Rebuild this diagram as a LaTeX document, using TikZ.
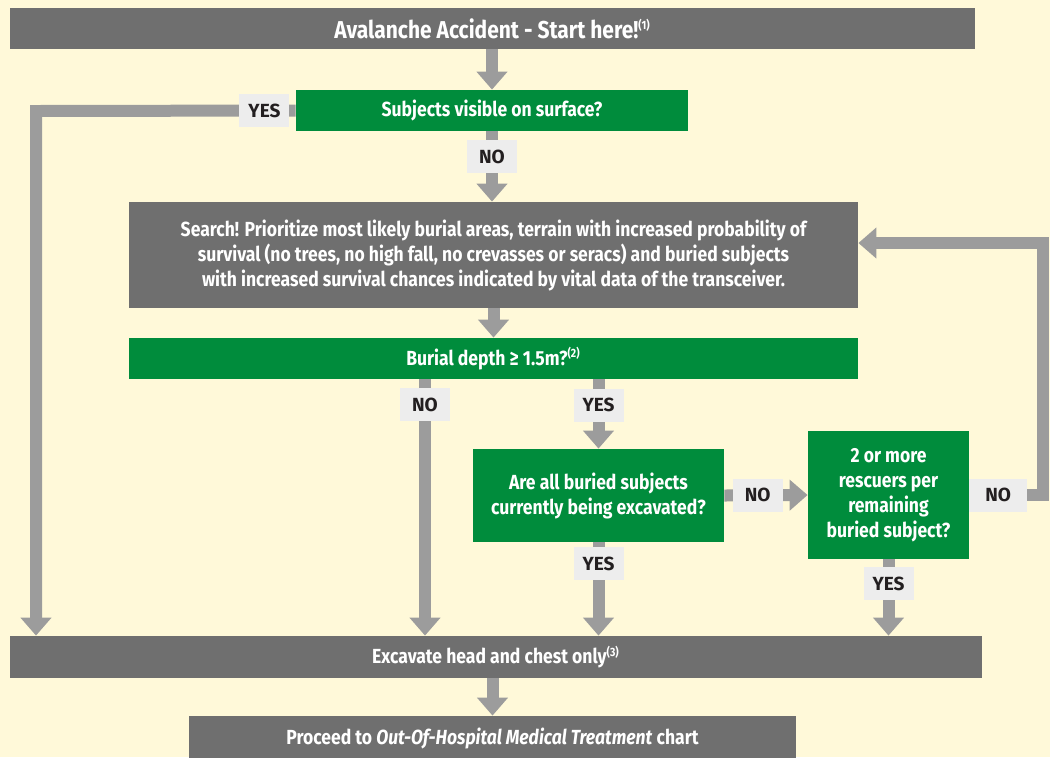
\documentclass[tikz,border=0pt]{standalone}
\usepackage{fontspec}
\setmainfont{Fira Sans}[FakeStretch=0.86]
\newfontfamily\tagfont{Fira Sans}
\usetikzlibrary{arrows.meta}

\definecolor{cream}{HTML}{FFF9D9}
\definecolor{boxgrey}{HTML}{6F6F6F}
\definecolor{boxgreen}{HTML}{008C3C}
\definecolor{flowgrey}{HTML}{9C9C9C}
\definecolor{tagbg}{HTML}{EDEDED}
\definecolor{tagtext}{HTML}{231F20}

\newcommand{\fnref}[1]{\textsuperscript{\fontsize{6}{6}\selectfont(#1)}}

\tikzset{
	grey-box/.style={fill=boxgrey, text=white, font=\bfseries\fontsize{10.2}{12.5}\selectfont, align=center, inner sep=0pt},
	green-box/.style={grey-box, fill=boxgreen},
	flow/.style={draw=flowgrey, line width=6pt, -{Triangle[width=15pt,length=9pt]}},
	tag/.style={fill=tagbg, text=tagtext, font=\tagfont\bfseries\fontsize{9.5}{10}\selectfont, minimum width=25pt, minimum height=16.5pt, inner sep=0pt}
}

\begin{document}
\begin{tikzpicture}[x=0.5pt,y=-0.5pt]
	\useasboundingbox (0,0) rectangle (1050,757);
	\fill[cream] (0,0) rectangle (1050,757);

	\node[grey-box, minimum width=482.5pt, minimum height=20.5pt, font=\bfseries\fontsize{12.2}{14}\selectfont] (start-here) at (492.5,28.5) {Avalanche Accident - Start here!\fnref{1}};
	\node[green-box, minimum width=196pt, minimum height=20.5pt] (visible-q) at (492,110.5) {Subjects visible on surface?};
	\node[grey-box, minimum width=364.5pt, minimum height=53pt] (search) at (493.5,255) {Search! Prioritize most likely burial areas, terrain with increased probability of\\survival (no trees, no high fall, no crevasses or seracs) and buried subjects\\with increased survival chances indicated by vital data of the transceiver.};
	\node[green-box, minimum width=364.5pt, minimum height=20.5pt] (depth-q) at (493.5,358.5) {Burial depth ≥ 1.5m?\fnref{2}};
	\node[green-box, minimum width=125.5pt, minimum height=46.5pt] (excavating-q) at (598.5,495.5) {Are all buried subjects\\currently being excavated?};
	\node[green-box, minimum width=80.5pt, minimum height=64pt] (rescuers-q) at (888.5,495) {2 or more\\rescuers per\\remaining\\buried subject?};
	\node[grey-box, minimum width=486pt, minimum height=21pt] (excavate) at (496,657) {Excavate head and chest only\fnref{3}};
	\node[grey-box, minimum width=303.5pt, minimum height=22pt] (proceed) at (492.5,738) {Proceed to \textit{Out-Of-Hospital Medical Treatment} chart};

	\coordinate (left-bend) at (36,111);
	\coordinate (loop-low) at (1043,495);
	\coordinate (loop-high) at (1043,243);
	\coordinate (no-drop) at (425,379);

	\draw[flow] (start-here.south -| visible-q.north) -- (visible-q.north);
	\draw[flow] (visible-q.west) -- node[tag, pos=.12] {YES} (left-bend) -- (left-bend |- excavate.north);
	\draw[flow] (visible-q.south) -- node[tag, pos=.36] {NO} (visible-q.south |- search.north);
	\draw[flow] (search.south) -- (depth-q.north);
	\draw[flow] (no-drop) -- node[tag, pos=.1] {NO} (no-drop |- excavate.north);
	\draw[flow] (depth-q.south -| excavating-q.north) -- node[tag, pos=.37] {YES} (excavating-q.north);
	\draw[flow] (excavating-q.east) -- node[tag, pos=.4] {NO} (rescuers-q.west);
	\draw[flow] (rescuers-q.east) -- node[tag, pos=.39, minimum width=29pt] {NO} (loop-low) -- (loop-high) -- (search.east |- loop-high);
	\draw[flow] (excavating-q.south) -- node[tag, pos=.23] {YES} (excavating-q.south |- excavate.north);
	\draw[flow] (rescuers-q.south) -- node[tag, pos=.32] {YES} (rescuers-q.south |- excavate.north);
	\draw[flow] (excavate.south -| proceed.north) -- (proceed.north);
\end{tikzpicture}
\end{document}
